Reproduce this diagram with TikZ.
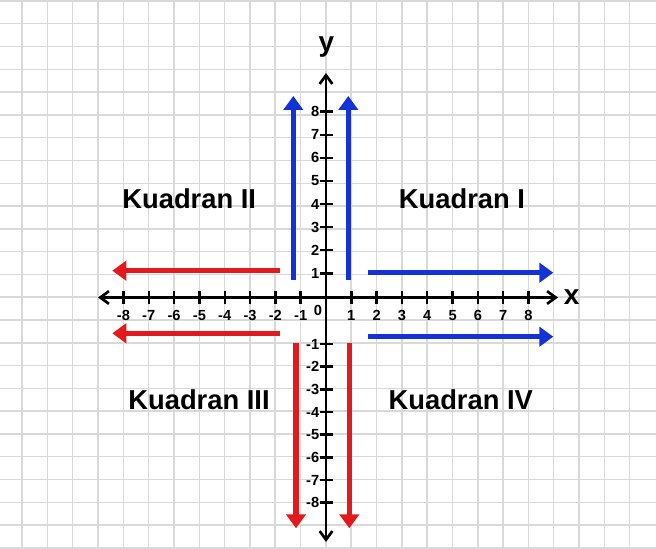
\documentclass[tikz,border=0pt]{standalone}
\usepackage{fontspec}
\setmainfont{Liberation Sans}
\usetikzlibrary{arrows.meta}
\definecolor{gridgray}{RGB}{217,217,217}
\definecolor{myred}{RGB}{226,26,30}
\definecolor{myblue}{RGB}{20,50,214}
\begin{document}
\begin{tikzpicture}[x=0.75pt,y=-0.75pt,
  gridline/.style={gridgray,line width=1.1pt},
  axis/.style={black,line width=2.1pt,{Straight Barb[length=6.5pt,width=9.5pt,line width=2pt]}-{Straight Barb[length=6.5pt,width=9.5pt,line width=2pt]}},
  tickmark/.style={black,line width=1.8pt},
  bigarrow/.style={line width=3.8pt,-{Triangle[length=10.5pt,width=14.5pt]}},
  num/.style={font=\bfseries\fontsize{11}{13}\selectfont,inner sep=0pt},
  quad/.style={font=\bfseries\fontsize{20.5}{24}\selectfont,inner sep=0pt,anchor=base},
  axlabel/.style={font=\bfseries\fontsize{21}{24}\selectfont,inner sep=0pt},
]
\fill[white] (0,0) rectangle (656,549);
\useasboundingbox (0,0) rectangle (656,549);
% grid
\foreach \k in {0,...,24} \draw[gridline] ({22+25.32*\k},0) -- ({22+25.32*\k},549);
\foreach \k in {-11,...,13} \draw[gridline] (0,{297.2-22.79*\k}) -- (656,{297.2-22.79*\k});
% axes
\coordinate (xl) at (98,297.5);
\coordinate (xr) at (558,297.5);
\coordinate (yt) at (326,73);
\coordinate (yb) at (326,542);
\draw[axis] (xl) -- (xr);
\draw[axis] (yb) -- (yt);
% x ticks
\foreach \i in {-8,...,-1,1,2,...,8} {
  \draw[tickmark] ({326+25.32*\i},291) -- ++(0,13);
  \node[num] (xn\i) at ({326+25.32*\i},315.5) {\i};
}
% y ticks
\foreach \i in {1,...,8} {
  \draw[tickmark] (319.5,{296.4-23.09*\i}) -- ++(13,0);
  \node[num,anchor=east] (yp\i) at (319.5,{296.4-23.09*\i}) {\i};
  \draw[tickmark] (319.5,{344+22.67*(\i-1)}) -- ++(13,0);
  \node[num,anchor=east] (yn\i) at (319.5,{344+22.67*(\i-1)}) {-\i};
}
\node[num] (origin) at (318,310.5) {0};
\node[axlabel] (xlab) at (571.7,297) {x};
\node[axlabel] (ylab) at (326.5,47.5) {y};
% quadrant labels
\node[quad] (q2) at (189.2,208.3) {Kuadran II};
\node[quad] (q1) at (462,208.3) {Kuadran I};
\node[quad] (q3) at (199,409.8) {Kuadran III};
\node[quad] (q4) at (460.8,409.3) {Kuadran IV};
% big arrows
\coordinate (bu1s) at (293.3,280); \coordinate (bu1e) at (293.3,96);
\coordinate (bu2s) at (348.3,280); \coordinate (bu2e) at (348.3,96);
\coordinate (rd1s) at (296,343.3); \coordinate (rd1e) at (296,528.3);
\coordinate (rd2s) at (349.3,343.3); \coordinate (rd2e) at (349.3,528.3);
\coordinate (rl1s) at (280,270.7); \coordinate (rl1e) at (112.3,270.7);
\coordinate (rl2s) at (280,333.3); \coordinate (rl2e) at (112.3,333.3);
\coordinate (br1s) at (368.3,272.7); \coordinate (br1e) at (553.3,272.7);
\coordinate (br2s) at (368.3,336.7); \coordinate (br2e) at (553.3,336.7);
\draw[bigarrow,myblue] (bu1s) -- (bu1e);
\draw[bigarrow,myblue] (bu2s) -- (bu2e);
\draw[bigarrow,myred] (rd1s) -- (rd1e);
\draw[bigarrow,myred] (rd2s) -- (rd2e);
\draw[bigarrow,myred] (rl1s) -- (rl1e);
\draw[bigarrow,myred] (rl2s) -- (rl2e);
\draw[bigarrow,myblue] (br1s) -- (br1e);
\draw[bigarrow,myblue] (br2s) -- (br2e);
\end{tikzpicture}
\end{document}
